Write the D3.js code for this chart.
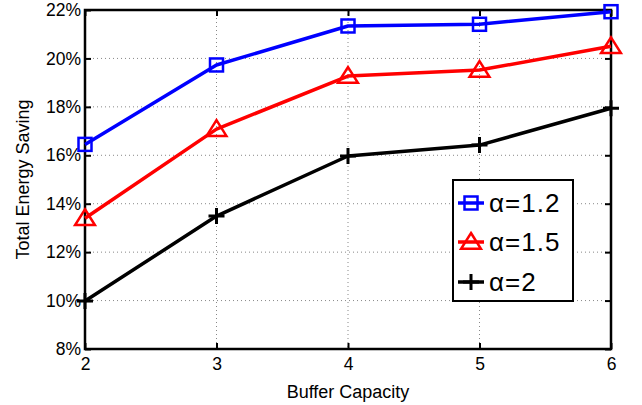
<!DOCTYPE html>
<html><head><meta charset="utf-8">
<script src="https://cdn.jsdelivr.net/npm/d3@7"></script>
<style>body{margin:0;background:#fff}svg{display:block}text{font-family:"Liberation Sans",Arial,sans-serif}</style>
</head><body><svg id="c" width="642" height="405"></svg>
<script>
const xCats = [2, 3, 4, 5, 6];
const yTicks = [8, 10, 12, 14, 16, 18, 20, 22];
const seriesNames = ["α=1.2", "α=1.5", "α=2"];
const alpha12 = [16.45, 19.73, 21.34, 21.41, 21.93];
const alpha15 = [13.4, 17.08, 19.27, 19.52, 20.5];
const alpha2 = [9.98, 13.49, 15.97, 16.42, 17.94];
const colors = ["#0000ff", "#ff0000", "#000000"];
const markers = ["square", "triangle", "plus"];
const allSeries = [alpha12, alpha15, alpha2];

const svg = d3.select("#c");
const L = 85, R = 611, T = 10, B = 349;
const x = d3.scaleLinear().domain([2, 6]).range([L, R]);
const y = d3.scaleLinear().domain([8, 22]).range([B, T]);

// grid
const g = svg.append("g");
g.selectAll("line.gx").data(xCats.slice(1, -1)).enter().append("line")
  .attr("x1", d => x(d)).attr("x2", d => x(d)).attr("y1", T).attr("y2", B)
  .attr("stroke", "#888").attr("stroke-width", 1).attr("stroke-dasharray", "1,3");
g.selectAll("line.gy").data(yTicks.slice(1, -1)).enter().append("line")
  .attr("y1", d => y(d)).attr("y2", d => y(d)).attr("x1", L).attr("x2", R)
  .attr("stroke", "#888").attr("stroke-width", 1).attr("stroke-dasharray", "1,3");

// axes
const xAxis = d3.axisBottom(x).tickValues(xCats).tickSize(-6).tickPadding(0).tickFormat(d3.format("d"));
const xAxisTop = d3.axisTop(x).tickValues(xCats).tickSize(-6).tickFormat("");
const yAxis = d3.axisLeft(y).tickValues(yTicks).tickSize(-6).tickPadding(6).tickFormat(d => d + "%");
const yAxisR = d3.axisRight(y).tickValues(yTicks).tickSize(-6).tickFormat("");
function style(sel) {
  sel.select(".domain").remove();
  sel.selectAll(".tick line").attr("stroke", "#000").attr("stroke-width", 2);
  sel.selectAll(".tick text").attr("fill", "#000").style("font-size", "17.5px").style("font-family", "Liberation Sans, Arial, sans-serif");
}
svg.append("g").attr("transform", `translate(0,${B})`).call(xAxis).call(style)
  .selectAll(".tick text").attr("y", 21).attr("dy", "0");
svg.append("g").attr("transform", `translate(0,${T})`).call(xAxisTop).call(style);
svg.append("g").attr("transform", `translate(${L},0)`).call(yAxis).call(style)
  .selectAll(".tick text").attr("x", -4);
svg.append("g").attr("transform", `translate(${R},0)`).call(yAxisR).call(style);
svg.append("rect").attr("x", L).attr("y", T).attr("width", R - L).attr("height", B - T)
  .attr("fill", "none").attr("stroke", "#000").attr("stroke-width", 2.5);

// series
const line = d3.line().x((d, i) => x(xCats[i])).y(d => y(d));
function drawMarker(sel, type, color, cx, cy) {
  if (type === "square") {
    sel.append("rect").attr("x", cx - 6.5).attr("y", cy - 6.5).attr("width", 13).attr("height", 13)
      .attr("fill", "none").attr("stroke", color).attr("stroke-width", 2.5);
  } else if (type === "triangle") {
    const s = 9;
    sel.append("path").attr("d", `M${cx},${cy - s}L${cx + s * 1.1},${cy + s * 0.75}L${cx - s * 1.1},${cy + s * 0.75}Z`)
      .attr("fill", "none").attr("stroke", color).attr("stroke-width", 2.5);
  } else {
    const s = 8;
    sel.append("path").attr("d", `M${cx - s},${cy}H${cx + s}M${cx},${cy - s}V${cy + s}`)
      .attr("fill", "none").attr("stroke", color).attr("stroke-width", 3);
  }
}
allSeries.forEach((vals, si) => {
  const gs = svg.append("g");
  gs.append("path").datum(vals).attr("d", line).attr("fill", "none")
    .attr("stroke", colors[si]).attr("stroke-width", 3.5).attr("stroke-linejoin", "round");
  vals.forEach((v, i) => drawMarker(gs, markers[si], colors[si], x(xCats[i]), y(v)));
});

// legend
const lg = svg.append("g");
lg.append("rect").attr("x", 453).attr("y", 180).attr("width", 120).attr("height", 121)
  .attr("fill", "#fff").attr("stroke", "#000").attr("stroke-width", 2);
const ly = [203, 242, 282];
seriesNames.forEach((n, i) => {
  lg.append("line").attr("x1", 458).attr("x2", 484).attr("y1", ly[i]).attr("y2", ly[i])
    .attr("stroke", colors[i]).attr("stroke-width", 3.5);
  drawMarker(lg, markers[i], colors[i], 471, ly[i]);
  lg.append("text").attr("x", 489).attr("y", ly[i] + 9).text(n)
    .style("font-size", "26px").style("letter-spacing", "1px").attr("fill", "#000");
});

// titles
svg.append("text").attr("x", (L + R) / 2).attr("y", 398).attr("text-anchor", "middle")
  .style("font-size", "18px").text("Buffer Capacity");
svg.append("text").attr("transform", `translate(29,${(T + B) / 2}) rotate(-90)`).attr("text-anchor", "middle")
  .style("font-size", "18px").text("Total Energy Saving");
</script></body></html>
